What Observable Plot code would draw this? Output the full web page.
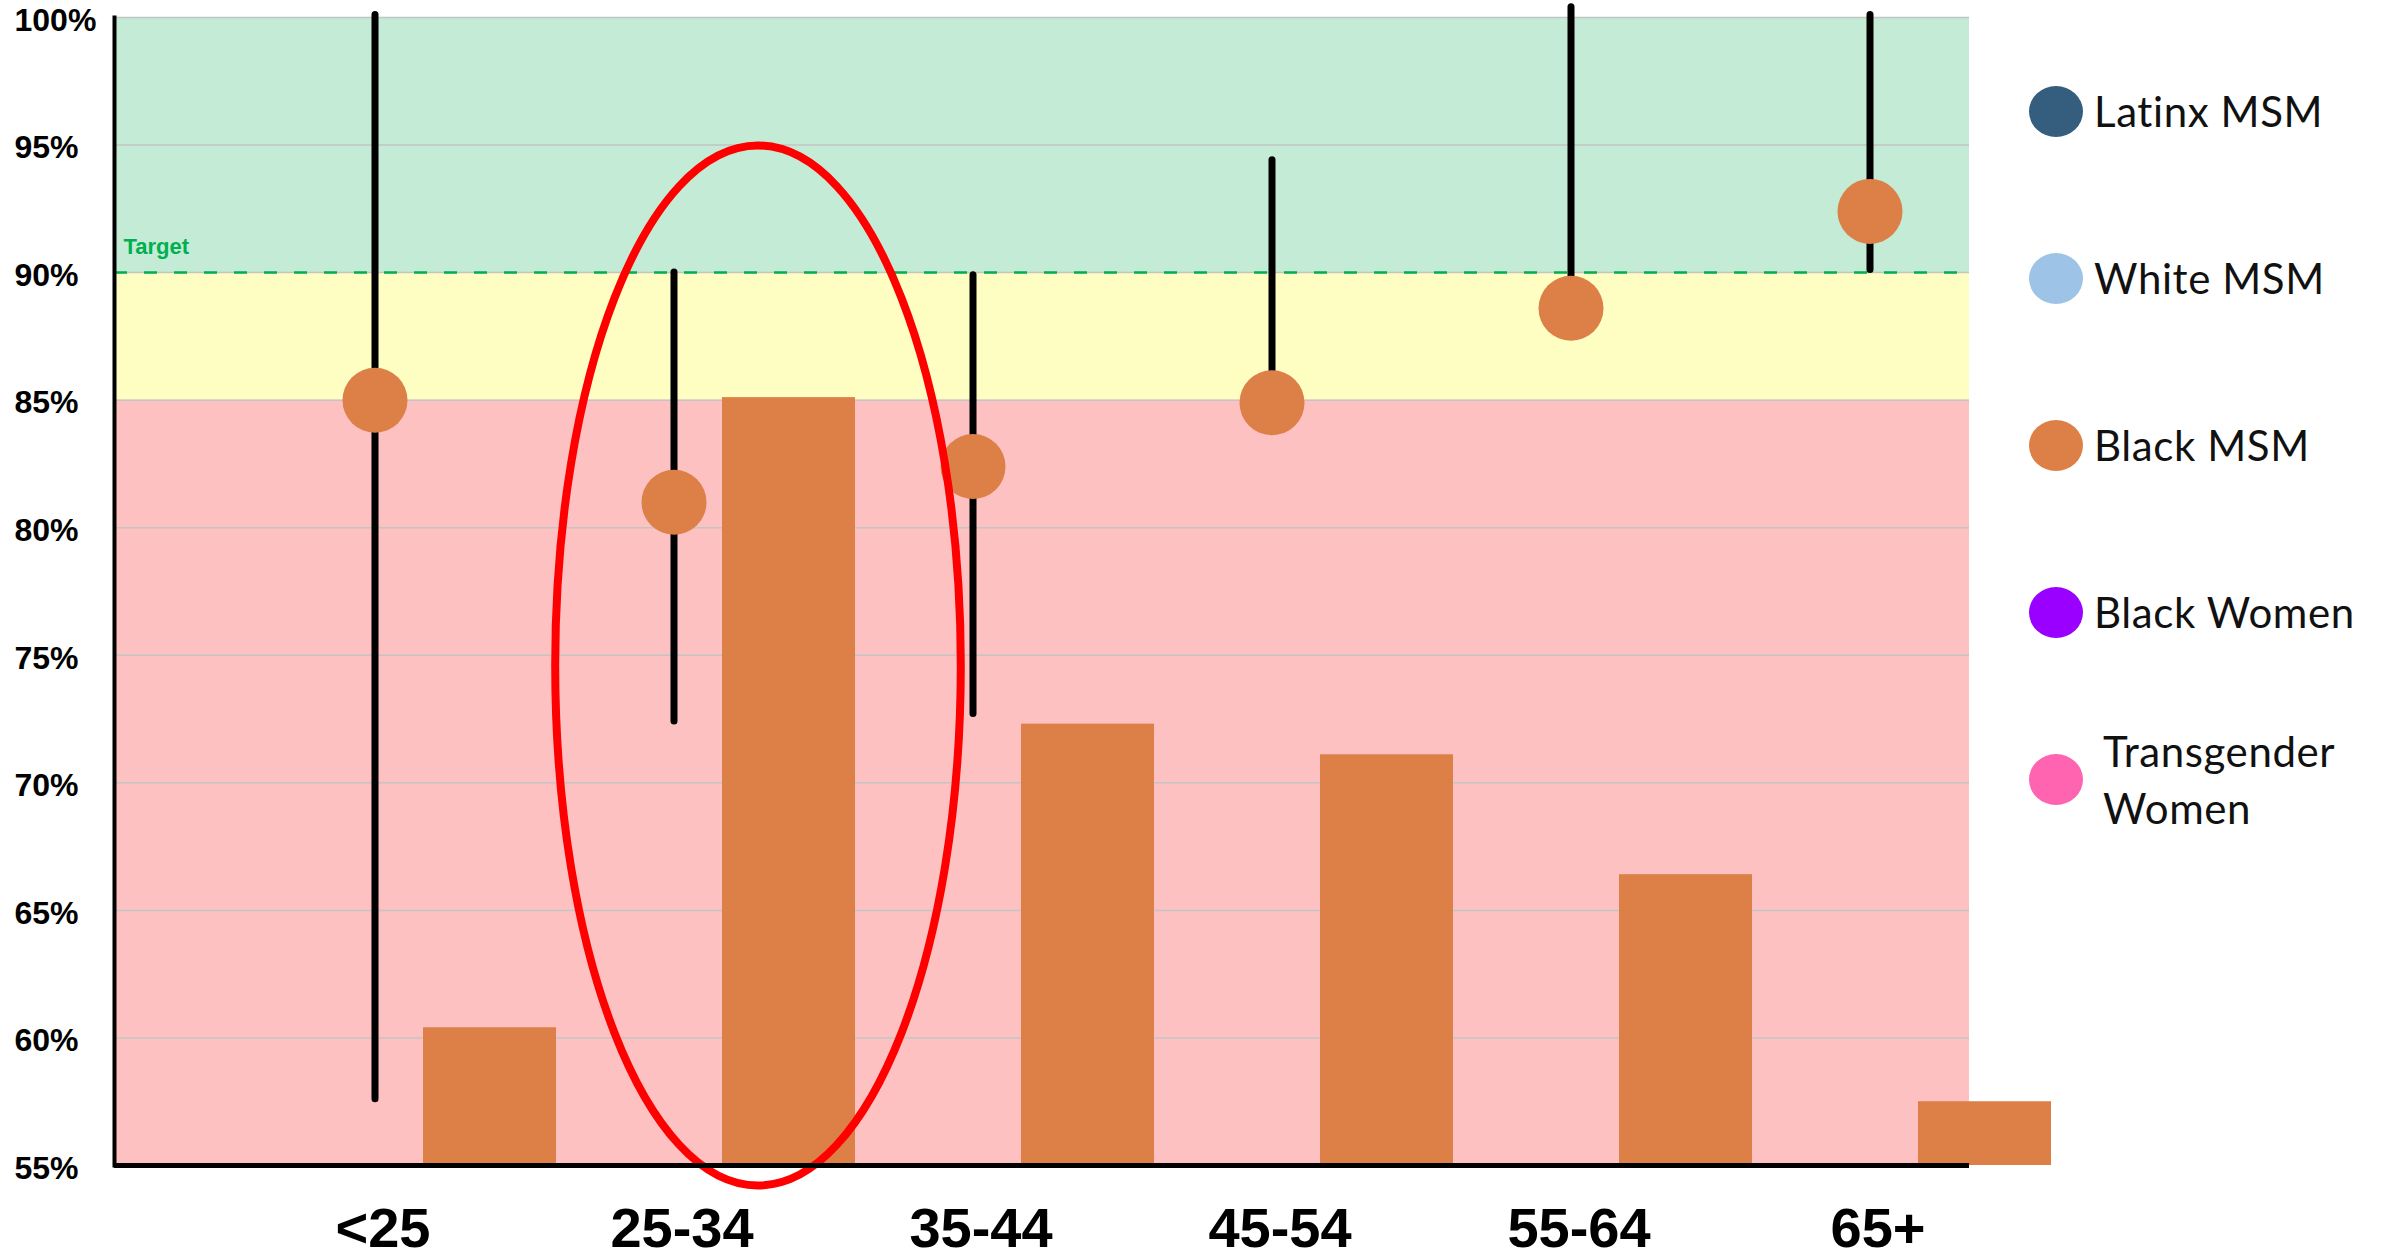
<!DOCTYPE html>
<html>
<head>
<meta charset="utf-8">
<script src="https://cdn.jsdelivr.net/npm/d3@7"></script>
<script src="https://cdn.jsdelivr.net/npm/@observablehq/plot@0.6"></script>
<style>
  html, body { margin: 0; padding: 0; background: #fff; overflow: hidden; }
  #wrap { position: relative; width: 2384px; height: 1259px; }
  #legend { position: absolute; left: 2029px; top: 28px; font-family: Lato, "Open Sans", sans-serif; font-size: 42px; letter-spacing: 0.6px; color: #111; }
  .item { height: 167px; display: flex; align-items: center; }
  .swatch { width: 54px; height: 51px; border-radius: 50%; flex: none; margin-right: 11px; }
  .lab { line-height: 57px; }
</style>
</head>
<body>
<div id="wrap">
  <div id="chart"></div>
  <div id="legend"></div>
</div>
<script>
// ---- data ----
const ages = ["<25", "25-34", "35-44", "45-54", "55-64", "65+"];
const blackMsm = [85.0, 81.0, 82.4, 84.9, 88.6, 92.4];
const ciLow = [57.6, 72.4, 72.7, 84.0, 88.0, 90.1];
const ciHigh = [100.1, 90.0, 89.9, 94.4, 100.4, 100.1];
const barValues = [60.4, 85.1, 72.3, 71.1, 66.4, 57.5];

const yTicks = [55, 60, 65, 70, 75, 80, 85, 90, 95, 100];
const target = 90;
const targetLabel = "Target";

const zoneLow = [90, 85, 55];
const zoneHigh = [100, 90, 85];
const zoneColors = ["#c3ebd6", "#fefec2", "#fdc1c2"];

const highlightAge = "25-34";
const highlightCenter = 74.6;

const seriesNames = ["Latinx MSM", "White MSM", "Black MSM", "Black Women", "Transgender<br>Women"];
const seriesColors = ["#355d7e", "#9dc3e6", "#dd8047", "#9900ff", "#ff64b0"];

// ---- tables built from arrays ----
const rows = ages.map((a, i) => ({age: a, value: blackMsm[i], low: ciLow[i], high: ciHigh[i], bar: barValues[i]}));
const zones = zoneLow.map((l, i) => ({y1: l, y2: zoneHigh[i], fill: zoneColors[i]}));

// ellipse symbol (aspect ratio rx/ry)
const ratio = 0.39;
const ellipseSymbol = {
  draw(ctx, size) {
    const ry = Math.sqrt(size / Math.PI), rx = ry * ratio, k = 0.5523;
    ctx.moveTo(rx, 0);
    ctx.bezierCurveTo(rx, ry * k, rx * k, ry, 0, ry);
    ctx.bezierCurveTo(-rx * k, ry, -rx, ry * k, -rx, 0);
    ctx.bezierCurveTo(-rx, -ry * k, -rx * k, -ry, 0, -ry);
    ctx.bezierCurveTo(rx * k, -ry, rx, -ry * k, rx, 0);
    ctx.closePath();
  }
};

const orange = "#dd8047";

const chart = Plot.plot({
  width: 2384,
  height: 1259,
  marginLeft: 114,
  marginRight: 415,
  marginTop: 17,
  marginBottom: 94,
  style: {fontFamily: "'Liberation Sans', Arial, sans-serif", background: "white", color: "black"},
  x: {domain: ages, range: [225, 2019], padding: 0, label: null},
  y: {domain: [55, 100], label: null},
  marks: [
    Plot.barY(zones, {y1: "y1", y2: "y2", fill: "fill"}),
    Plot.gridY(yTicks, {stroke: "#c4c4c4", strokeOpacity: 1, strokeWidth: 1.5}),
    Plot.ruleY([target], {stroke: "#00b050", strokeWidth: 2.5, strokeDasharray: "13,17"}),
    Plot.text([targetLabel], {frameAnchor: "left", y: () => target, dx: 9, dy: -26, textAnchor: "start", fill: "#00b050", fontWeight: "bold", fontSize: 22}),
    Plot.barY(rows, {x: "age", y1: 55, y2: "bar", fill: orange, insetLeft: 83, insetRight: 83, dx: 115}),
    Plot.ruleX(rows, {x: "age", y1: "low", y2: "high", stroke: "black", strokeWidth: 7, strokeLinecap: "round"}),
    Plot.dot(rows, {x: "age", y: "value", r: 32.5, fill: orange, stroke: null}),
    Plot.dot([highlightAge], {x: d => d, y: () => highlightCenter, r: 520, symbol: ellipseSymbol, fill: "none", stroke: "#ff0000", strokeWidth: 8, dx: 84}),
    Plot.ruleY([55], {stroke: "black", strokeWidth: 5}),
    Plot.frame({anchor: "left", stroke: "black", strokeWidth: 4}),
    Plot.axisY(yTicks, {tickSize: 0, tickPadding: 0, textAnchor: "start", dx: -100, dy: 3, fontSize: 32, fontWeight: "bold", fill: "black", tickFormat: d => d + "%", label: null}),
    Plot.axisX({tickSize: 0, tickPadding: 42, fontSize: 56, fontWeight: "bold", fill: "black", dx: 8, label: null})
  ]
});
document.getElementById("chart").appendChild(chart);

const legend = document.getElementById("legend");
seriesNames.forEach((name, i) => {
  const item = document.createElement("div");
  item.className = "item";
  const sw = document.createElement("div");
  sw.className = "swatch";
  sw.style.background = seriesColors[i];
  const lab = document.createElement("div");
  lab.className = "lab";
  lab.innerHTML = name;
  if (name.includes("<br>")) lab.style.marginLeft = "9px";
  item.appendChild(sw);
  item.appendChild(lab);
  legend.appendChild(item);
});
</script>
</body>
</html>
